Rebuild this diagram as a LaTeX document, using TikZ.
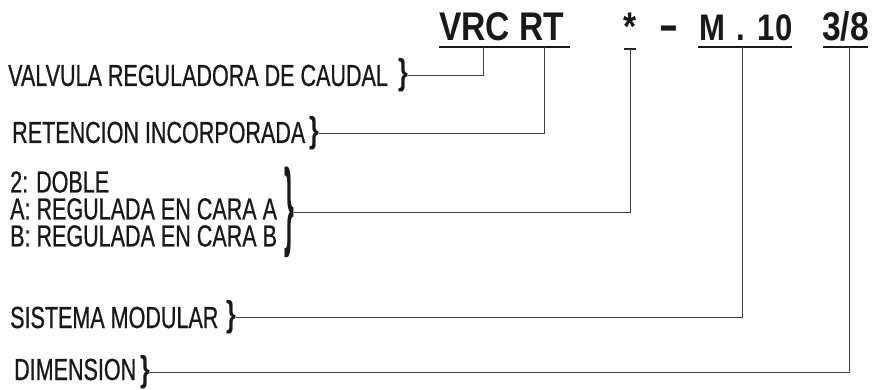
\documentclass[tikz,border=0pt]{standalone}
\usepackage{fontspec}
\setmainfont{Liberation Sans}
\newfontfamily\lblfont[FakeStretch=0.706,FakeBold=0.6]{Liberation Sans}
\newfontfamily\brcfont[FakeStretch=0.7]{Liberation Sans}
\newfontfamily\hdrfont[FakeStretch=0.84]{Liberation Sans}
\begin{document}
\begin{tikzpicture}[x=1pt,y=-1pt,
  lbl/.style={anchor=base west,inner sep=0pt,font=\lblfont\fontsize{30.5}{27}\selectfont,text=black!90},
  hdr/.style={anchor=base west,inner sep=0pt,font=\hdrfont\bfseries\fontsize{40}{40}\selectfont,text=black!90},
  brc/.style={anchor=west,inner sep=0pt,font=\brcfont\bfseries\fontsize{36}{36}\selectfont,text=black!90},
  conn/.style={line width=0.8pt,draw=black!75},
  uline/.style={line width=2.6pt,draw=black!90},
]
\useasboundingbox (0,0) rectangle (872,390);

% header
\node[hdr] (h1) at (439,41) {VRC RT};
\node[hdr] (h2) at (623,41) {*};
\node[hdr] (h3) at (660,43) {\scalebox{0.9}[1.3]{–}};
\node[hdr,font=\hdrfont\bfseries\fontsize{37}{37}\selectfont] (h4) at (699,41) {M\hskip 11pt.\hskip 13pt10};
\node[hdr] (h5) at (822,41) {3/8};
\draw[uline] (439,47) -- (570,47);
\draw[uline] (698,47) -- (792,47);
\draw[uline] (823,47) -- (868,47);
\draw[line width=1.2pt,draw=black!85] (624,49) -- (636,49);

\coordinate (t1) at (483,47);
\coordinate (t2) at (544,47);
\coordinate (t3) at (630,49);
\coordinate (t4) at (742,47);
\coordinate (t5) at (849,47);

% labels
\node[lbl] (l1) at (8,86) {VALVULA REGULADORA DE CAUDAL};
\node[lbl] (l2) at (12,143) {RETENCION INCORPORADA};
\node[lbl,anchor=north west,align=left] (l3) at (10,171) {2: DOBLE\\A: REGULADA EN CARA A\\B: REGULADA EN CARA B};
\node[lbl] (l4) at (10,328) {SISTEMA MODULAR};
\node[lbl] (l5) at (14,380) {DIMENSION};

% braces
\node[brc] (b1) at (398,75) {\}};
\node[brc] (b2) at (309,133) {\}};
\node[brc] (b3) at (284,212) {\scalebox{1}[2.7]{\}}};
\node[brc] (b4) at (226,317) {\}};
\node[brc] (b5) at (140,372) {\}};

% connectors
\draw[conn] (b1.east) -- (b1.east -| t1) -- (t1);
\draw[conn] (b2.east) -- (b2.east -| t2) -- (t2);
\draw[conn] (b3.east) -- (b3.east -| t3) -- (t3);
\draw[conn] (b4.east) -- (b4.east -| t4) -- (t4);
\draw[conn] (b5.east) -- (b5.east -| t5) -- (t5);
\end{tikzpicture}
\end{document}
